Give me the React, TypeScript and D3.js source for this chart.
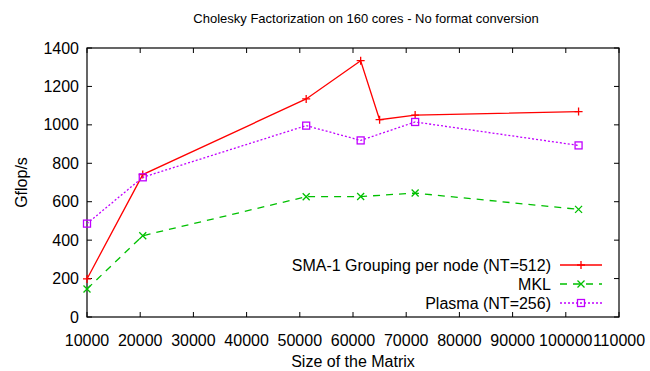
import React from 'react';
import * as d3 from 'd3';

const matrixSizes = [10000, 20480, 51200, 61440, 65000, 71680, 102400];
const smaGrouping = [198, 741, 1135, 1334, 1027, 1051, 1069];

const mklSizes = [10000, 20480, 51200, 61440, 71680, 102400];
const mklValues = [146, 423, 626, 627, 645, 560];

const plasmaSizes = [10000, 20480, 51200, 61440, 71680, 102400];
const plasmaValues = [486, 727, 996, 919, 1015, 893];

const xTicks = [10000, 20000, 30000, 40000, 50000, 60000, 70000, 80000, 90000, 100000, 110000];
const yTicks = [0, 200, 400, 600, 800, 1000, 1200, 1400];

const W = 650;
const H = 371;
const margin = { top: 48, right: 31, bottom: 54, left: 87 };
const font = '"Liberation Sans", Arial, sans-serif';
const fs = 16;

type Pt = [number, number];

const App: React.FC = () => {
    const x = d3.scaleLinear().domain([10000, 110000]).range([margin.left, W - margin.right]);
    const y = d3.scaleLinear().domain([0, 1400]).range([H - margin.bottom, margin.top]);
    const line = d3.line<Pt>().x(d => x(d[0])).y(d => y(d[1]));

    const sma: Pt[] = matrixSizes.map((s, i) => [s, smaGrouping[i]]);
    const mkl: Pt[] = mklSizes.map((s, i) => [s, mklValues[i]]);
    const plasma: Pt[] = plasmaSizes.map((s, i) => [s, plasmaValues[i]]);

    const x0 = x.range()[0], x1 = x.range()[1];
    const y0 = y.range()[0], y1 = y.range()[1];
    const tick = 5;

    const plus = (cx: number, cy: number, c: string, k: string) => (
        <path key={k} d={`M${cx - 4},${cy}H${cx + 4}M${cx},${cy - 4}V${cy + 4}`} stroke={c} strokeWidth={1.3} />
    );
    const cross = (cx: number, cy: number, c: string, k: string) => (
        <path key={k} d={`M${cx - 3.5},${cy - 3.5}L${cx + 3.5},${cy + 3.5}M${cx - 3.5},${cy + 3.5}L${cx + 3.5},${cy - 3.5}`} stroke={c} strokeWidth={1.3} />
    );
    const square = (cx: number, cy: number, c: string, k: string) => (
        <rect key={k} x={cx - 3.5} y={cy - 3.5} width={7} height={7} fill="none" stroke={c} strokeWidth={1.3} />
    );

    const series = [
        { label: 'SMA-1 Grouping per node (NT=512)', data: sma, color: '#ff0000', dash: undefined, mark: plus },
        { label: 'MKL', data: mkl, color: '#00c000', dash: '7,6', mark: cross },
        { label: 'Plasma (NT=256)', data: plasma, color: '#c000ff', dash: '2,2', mark: square },
    ];

    const legendY = [265, 284, 303];

    return (
        <svg width={W} height={H} style={{ position: 'absolute', left: 0, top: 0, background: '#fff' }} fontFamily={font}>
            <rect width={W} height={H} fill="#fff" />
            <text x={366} y={23} textAnchor="middle" fontSize={13}>Cholesky Factorization on 160 cores - No format conversion</text>

            {yTicks.map(t => (
                <g key={'y' + t}>
                    <line x1={x0} x2={x0 + tick} y1={y(t)} y2={y(t)} stroke="#000" />
                    <line x1={x1} x2={x1 - tick} y1={y(t)} y2={y(t)} stroke="#000" />
                    <text x={x0 - 8} y={y(t)} dy="0.35em" textAnchor="end" fontSize={fs}>{t}</text>
                </g>
            ))}
            {xTicks.map(t => (
                <g key={'x' + t}>
                    <line x1={x(t)} x2={x(t)} y1={y0} y2={y0 - tick} stroke="#000" />
                    <line x1={x(t)} x2={x(t)} y1={y1} y2={y1 + tick} stroke="#000" />
                    <text x={x(t)} y={y0 + 29} textAnchor="middle" fontSize={fs}>{t}</text>
                </g>
            ))}
            <rect x={x0} y={y1} width={x1 - x0} height={y0 - y1} fill="none" stroke="#000" strokeWidth={1.2} />

            <text transform={`translate(27,${(y0 + y1) / 2}) rotate(-90)`} textAnchor="middle" fontSize={fs}>Gflop/s</text>
            <text x={(x0 + x1) / 2} y={367} textAnchor="middle" fontSize={fs}>Size of the Matrix</text>

            {series.map((s, si) => (
                <g key={s.label}>
                    <path d={line(s.data) ?? ''} fill="none" stroke={s.color} strokeWidth={1.3} strokeDasharray={s.dash} />
                    {s.data.map((d, i) => s.mark(x(d[0]), y(d[1]), s.color, s.label + i))}
                    <text x={551} y={legendY[si]} dy="0.35em" textAnchor="end" fontSize={fs}>{s.label}</text>
                    <line x1={560} x2={602} y1={legendY[si]} y2={legendY[si]} stroke={s.color} strokeWidth={1.3} strokeDasharray={s.dash} />
                    {s.mark(581, legendY[si], s.color, s.label + 'leg')}
                </g>
            ))}
        </svg>
    );
};

export default App;
